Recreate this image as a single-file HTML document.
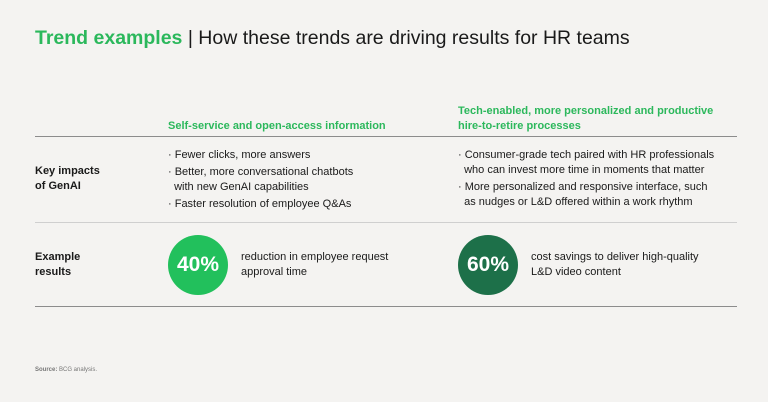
<!DOCTYPE html>
<html><head><meta charset="utf-8"><style>
body{margin:0;width:768px;height:402px;background:#f4f3f1;font-family:"Liberation Sans",sans-serif;position:relative;overflow:hidden;color:#1a1a1a}
.a{position:absolute;white-space:nowrap}
.g{color:#2cb85c;font-weight:bold}
.t{font-size:11px;line-height:15px}
.hl{position:absolute;left:35px;width:702px;height:1px;background:#8c8c8c}
.c{position:absolute;width:60px;height:60px;border-radius:50%;color:#fff;font-weight:bold;font-size:21px;text-align:center;line-height:60px}
</style></head><body>
<div class="a" style="left:35px;top:27px;font-size:19.5px"><span class="g" style="font-weight:bold;color:#2bb85c">Trend examples</span> <span style="font-weight:300">| How these trends are driving results for HR teams</span></div>
<div class="a g t" style="left:168px;top:119px">Self-service and open-access information</div>
<div class="a g t" style="left:458px;top:104px">Tech-enabled, more personalized and productive<br>hire-to-retire processes</div>
<div class="hl" style="top:136px"></div>
<div class="a t" style="left:35px;top:164px;font-weight:bold">Key impacts<br>of GenAI</div>
<div class="a t" style="left:168px;top:148px;line-height:15px">· Fewer clicks, more answers<br><div style="height:2px"></div>· Better, more conversational chatbots<br>&nbsp;&nbsp;with new GenAI capabilities<br><div style="height:2px"></div>· Faster resolution of employee Q&amp;As</div>
<div class="a t" style="left:458px;top:148px;line-height:15px">· Consumer-grade tech paired with HR professionals<br>&nbsp;&nbsp;who can invest more time in moments that matter<br><div style="height:2px"></div>· More personalized and responsive interface, such<br>&nbsp;&nbsp;as nudges or L&amp;D offered within a work rhythm</div>
<div class="hl" style="top:222px;background:#cfcfcf"></div>
<div class="a t" style="left:35px;top:250px;font-weight:bold">Example<br>results</div>
<div class="c" style="left:168px;top:235px;background:#22c05c">40%</div>
<div class="a t" style="left:241px;top:250px">reduction in employee request<br>approval time</div>
<div class="c" style="left:458px;top:235px;background:#1d7049">60%</div>
<div class="a t" style="left:531px;top:250px">cost savings to deliver high-quality<br>L&amp;D video content</div>
<div class="hl" style="top:306px"></div>
<div class="a" style="left:35px;top:367px;font-size:6px;color:#777"><b>Source:</b> BCG analysis.</div>
</body></html>
